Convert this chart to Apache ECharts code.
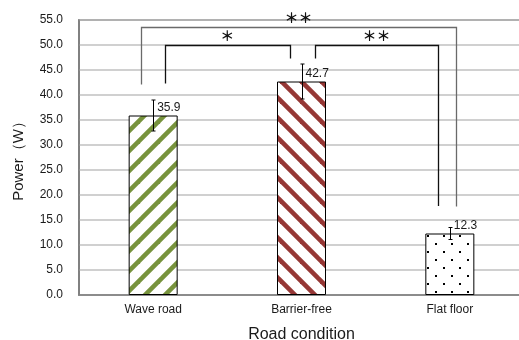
<!DOCTYPE html>
<html>
<head>
<meta charset="utf-8">
<script src="https://cdn.jsdelivr.net/npm/echarts@6/dist/echarts.min.js"></script>
<style>
  html, body { margin: 0; padding: 0; background: #fff; }
  #chart { width: 519px; height: 340px; }
</style>
</head>
<body>
<div id="chart"></div>
<script>
// Mean power per road condition, with standard deviation
const categories = ['Wave road', 'Barrier-free', 'Flat floor'];
const powerMean = [35.9, 42.7, 12.3];
const powerSD = [3.1, 3.5, 1.2];

// Significance brackets: [fromX, toX, topY, leftLegEndY, rightLegEndY]
const bracketLines = [
  [-0.08, 2.04, 53.7, 42.1, 17.7],
  [0.08, 0.92, 50.1, 42.3, 47.3],
  [1.09, 1.92, 50.1, 47.3, 17.8]
];
const bracketMarks = ['＊＊', '＊', '＊＊'];
const bracketColors = ['#6a6a6a', '#111', '#111'];

const FONT = '"Liberation Sans", Arial, sans-serif';
const STAR_FONT = '"Noto Sans CJK JP", "Noto Sans CJK SC", sans-serif';

// Fill patterns drawn on small canvases
function stripePattern(color, upward) {
  const s = 20;
  const c = document.createElement('canvas');
  c.width = s; c.height = s;
  const g = c.getContext('2d');
  g.fillStyle = '#fff';
  g.fillRect(0, 0, s, s);
  g.strokeStyle = color;
  g.lineWidth = 4.6;
  for (let k = -1; k <= 1; k++) {
    g.beginPath();
    if (upward) {
      g.moveTo(k * s - 2, s + 2);
      g.lineTo(k * s + s + 2, -2);
    } else {
      g.moveTo(k * s - 2, -2);
      g.lineTo(k * s + s + 2, s + 2);
    }
    g.stroke();
  }
  return { image: c, repeat: 'repeat' };
}
function dotPattern() {
  const s = 16;
  const c = document.createElement('canvas');
  c.width = s; c.height = s;
  const g = c.getContext('2d');
  g.fillStyle = '#fff';
  g.fillRect(0, 0, s, s);
  g.fillStyle = '#000';
  g.fillRect(3, 3, 2, 2);
  g.fillRect(11, 11, 2, 2);
  return { image: c, repeat: 'repeat' };
}
const fills = [stripePattern('#77933C', true), stripePattern('#953735', false), dotPattern()];

const chart = echarts.init(document.getElementById('chart'), null, { renderer: 'canvas' });

const option = {
  animation: false,
  backgroundColor: '#fff',
  grid: {
    left: 79, top: 20, width: 445, bottom: 45,
    outerBoundsMode: 'none',
    containLabel: false,
    show: true, borderColor: '#595959', borderWidth: 1.5, backgroundColor: 'transparent'
  },
  xAxis: [
    {
      type: 'category',
      data: categories,
      axisLine: { onZero: false, lineStyle: { color: '#808080', width: 1.5 } },
      axisTick: { show: false },
      axisLabel: { color: '#1a1a1a', fontSize: 12, fontFamily: FONT, margin: 9 },
      name: 'Road condition',
      nameLocation: 'middle',
      nameGap: 32,
      nameTextStyle: { color: '#1a1a1a', fontSize: 16, fontFamily: FONT }
    },
    {
      type: 'value', min: -0.5, max: 2.5, show: false,
      splitLine: { show: false }, axisLine: { show: false }, axisLabel: { show: false }
    }
  ],
  yAxis: {
    type: 'value',
    min: 0, max: 55, interval: 5,
    axisLine: { show: true, onZero: false, lineStyle: { color: '#808080', width: 1.5 } },
    axisTick: { show: false },
    splitLine: { lineStyle: { color: '#c0c0c0', width: 1.5 } },
    axisLabel: {
      color: '#1a1a1a', fontSize: 12, fontFamily: FONT, margin: 16,
      formatter: v => v.toFixed(1)
    },
    name: 'Power（W）',
    nameLocation: 'middle',
    nameGap: 53,
    nameTextStyle: { color: '#1a1a1a', fontSize: 15, fontFamily: FONT }
  },
  series: [
    {
      type: 'bar',
      barWidth: 49,
      data: powerMean.map((v, i) => ({
        value: v,
        itemStyle: { color: fills[i], borderColor: '#000', borderWidth: 1 }
      })),
      label: {
        show: true,
        position: 'top',
        align: 'left',
        distance: 2,
        offset: [4, 0],
        color: '#1a1a1a',
        fontSize: 12,
        fontFamily: FONT,
        formatter: p => p.value.toFixed(1)
      },
      z: 2
    },
    {
      // error bars (mean ± SD)
      type: 'custom',
      data: powerMean.map((v, i) => [i, v - powerSD[i], v + powerSD[i]]),
      renderItem: (params, api) => {
        const lo = api.coord([api.value(0), api.value(1)]);
        const hi = api.coord([api.value(0), api.value(2)]);
        const x = Math.round(lo[0]) + 0.5;
        const cap = 2;
        const st = { stroke: '#000', lineWidth: 1 };
        return {
          type: 'group',
          children: [
            { type: 'line', shape: { x1: x, y1: lo[1], x2: x, y2: hi[1] }, style: st },
            { type: 'line', shape: { x1: x - cap, y1: hi[1], x2: x + cap, y2: hi[1] }, style: st },
            { type: 'line', shape: { x1: x - cap, y1: lo[1], x2: x + cap, y2: lo[1] }, style: st }
          ]
        };
      },
      z: 5
    },
    {
      // significance brackets
      type: 'custom',
      xAxisIndex: 1,
      data: bracketLines,
      renderItem: (params, api) => {
        const i = params.dataIndex;
        const b = bracketLines[i];
        const pL = api.coord([b[0], b[2]]);
        const pR = api.coord([b[1], b[2]]);
        const eL = api.coord([b[0], b[3]]);
        const eR = api.coord([b[1], b[4]]);
        const r = v => Math.round(v) + 0.5;
        const col = bracketColors[i];
        return {
          type: 'group',
          children: [
            {
              type: 'polyline',
              shape: { points: [[r(eL[0]), eL[1]], [r(pL[0]), r(pL[1])], [r(pR[0]), r(pR[1])], [r(eR[0]), eR[1]]] },
              style: { stroke: col, lineWidth: 1.3, fill: null }
            },
            {
              type: 'text',
              x: (pL[0] + pR[0]) / 2,
              y: pL[1] - 8.5,
              style: {
                text: bracketMarks[i],
                fill: '#111',
                font: 'bold 14px ' + STAR_FONT,
                textAlign: 'center',
                textVerticalAlign: 'middle'
              }
            }
          ]
        };
      },
      z: 6
    }
  ]
};
chart.setOption(option);
</script>
</body>
</html>
